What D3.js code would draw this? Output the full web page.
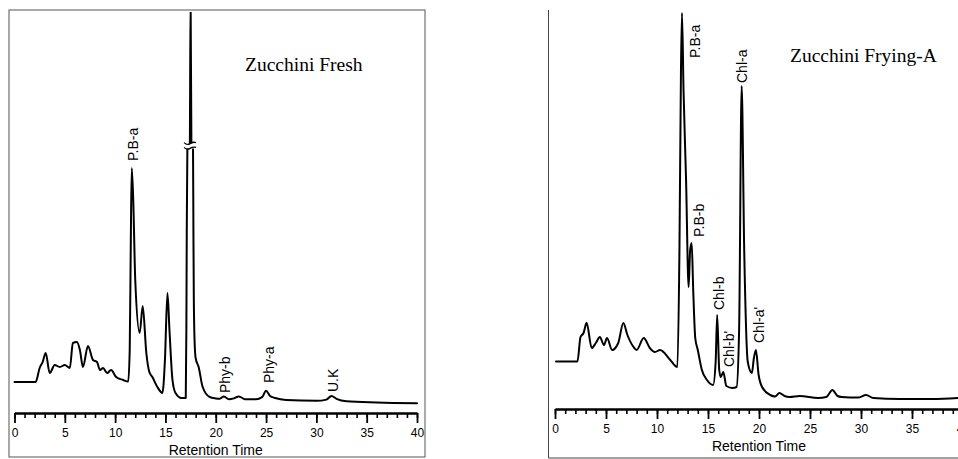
<!DOCTYPE html>
<html>
<head>
<meta charset="utf-8">
<script src="https://cdn.jsdelivr.net/npm/d3@7"></script>
<style>
  html, body { margin: 0; padding: 0; background: #fff; }
  svg { display: block; }
  text { font-family: "Liberation Sans", Arial, sans-serif; fill: #000; }
  .title { font-family: "Liberation Serif", "Times New Roman", serif; font-size: 19.5px; }
</style>
</head>
<body>
<svg id="chart" width="958" height="459"></svg>
<script>
// ---------------- DATA ----------------
const axisTicksMajor = [0, 5, 10, 15, 20, 25, 30, 35, 40];
const axisTicksMinor = d3.range(0, 41, 1);
const xLabel = "Retention Time";

const titleLeft = "Zucchini Fresh";
const titleRight = "Zucchini Frying-A";

// Left chromatogram (Zucchini Fresh): retention time (min) and detector response (arbitrary units)
const timeLeft = [0.0, 2.1, 2.5, 2.8, 3.1, 3.5, 4.0, 4.5, 5.0, 5.5, 5.8, 6.2, 6.5, 6.8, 7.3, 7.8, 8.2, 8.5, 8.8, 9.2, 9.6, 10.1, 10.8, 11.3,
  11.45, 11.55, 11.65, 11.8, 12.0, 12.44, 12.74, 13.1, 13.4, 13.7, 14.2, 14.7, 14.95, 15.2, 15.4, 15.7, 16.0, 16.6, 17.02,
  17.08, 17.12, 17.18, 17.42, 17.5, 17.58, 17.74, 17.78, 17.82, 17.9, 18.0, 18.3, 18.7, 19.4, 20.0, 20.4, 20.8, 21.3, 21.8, 22.3, 22.9, 24.0, 24.6, 25.0, 25.4,
  25.9, 27.0, 30.0, 31.0, 31.5, 32.0, 33.0, 36.0, 40.0];
const valueLeft = [7.0, 7.0, 10.5, 12.0, 14.25, 9.25, 11.25, 10.75, 11.25, 10.5, 16.75, 17.0, 15.0, 10.75, 16.0, 12.5, 12.0, 10.0, 10.5, 9.25, 10.0, 8.25, 7.5, 7.1,
  15.0, 40.0, 60.5, 52.5, 32.5, 19.25, 26.0, 14.25, 9.5, 8.25, 5.75, 4.25, 12.5, 29.25, 20.0, 7.5, 4.25, 3.0, 3.0,
  20.0, 45.0, 65.5, 66.5, 103.0, 66.5, 65.5, 45.0, 28.0, 17.0, 13.0, 10.75, 5.75, 3.25, 2.9, 2.8, 3.4, 2.7, 2.9, 3.4, 2.7, 2.7, 3.2, 4.8, 3.5,
  3.0, 2.5, 2.3, 2.6, 3.5, 2.8, 2.2, 1.9, 1.7];

// Right chromatogram (Zucchini Frying-A)
const timeRight = [0.1, 2.2, 2.5, 2.8, 3.1, 3.6, 4.0, 4.4, 4.8, 5.1, 5.6, 6.2, 6.7, 7.1, 7.7, 8.0, 8.7, 9.3, 9.8, 10.3, 11.3, 12.0,
  12.2, 12.35, 12.45, 12.6, 12.85, 13.1, 13.25, 13.4, 13.55, 13.75, 14.0, 14.4, 14.9, 15.5, 15.75, 15.9, 16.1, 16.25, 16.5, 16.8,
  17.4, 17.8, 18.05, 18.3, 18.55, 18.9, 19.3, 19.5, 19.7, 19.95, 20.3, 21.1, 21.6, 22.0, 22.5, 23.0, 24.0, 25.8, 26.6, 27.2, 27.7,
  28.1, 29.7, 30.5, 31.2, 33.8, 37.0, 39.5];
const valueRight = [12.1, 12.1, 18.25, 19.25, 21.8, 15.5, 16.75, 18.25, 16.25, 18.0, 15.0, 16.75, 21.75, 18.75, 15.75, 15.0, 18.0, 15.5, 14.5, 15.0, 12.5, 10.75,
  40.0, 85.0, 99.25, 80.0, 57.5, 30.75, 40.0, 41.75, 30.0, 18.0, 15.0, 10.0, 7.5, 6.25, 12.0, 23.75, 10.0, 8.25, 9.5, 6.0,
  5.5, 5.75, 20.0, 81.0, 40.0, 12.0, 9.25, 13.0, 15.0, 9.0, 5.75, 3.75, 3.4, 4.25, 3.5, 3.25, 3.5, 3.0, 3.25, 5.0, 3.5,
  3.25, 3.1, 3.75, 3.0, 2.75, 2.75, 3.0];

// Peak annotations: name, retention time and response at which the label starts
const peakNamesLeft = ["P.B-a", "Phy-b", "Phy-a", "U.K"];
const peakTimesLeft = [11.78, 20.9, 25.3, 31.66];
const peakLevelsLeft = [62.25, 4.25, 6.75, 4.5];

const peakNamesRight = ["P.B-a", "P.B-b", "Chl-b", "Chl-b'", "Chl-a", "Chl-a'"];
const peakTimesRight = [13.73, 14.12, 16.08, 17.06, 18.33, 20.0];
const peakLevelsRight = [88.0, 43.25, 25.0, 10.75, 81.75, 16.75];

// Axis break on the off-scale peak (left panel)
const breakTimeLeft = 17.45;
const breakLevelLeft = 66.0;

// ---------------- DRAWING ----------------
const svg = d3.select("#chart");

function panel(cfg) {
  const g = svg.append("g");
  const x = d3.scaleLinear().domain([0, 40]).range(cfg.xRange);
  const y = d3.scaleLinear().domain([0, 100]).range([410, 10]);

  // frame
  if (cfg.frame === "full") {
    g.append("rect").attr("x", cfg.frameBox[0]).attr("y", cfg.frameBox[1])
      .attr("width", cfg.frameBox[2]).attr("height", cfg.frameBox[3])
      .attr("fill", "none").attr("stroke", "#555").attr("stroke-width", 1);
  } else {
    g.append("path")
      .attr("d", `M${cfg.frameBox[0]},${cfg.frameBox[1]}V${cfg.frameBox[1] + cfg.frameBox[3]}H${cfg.frameBox[0] + cfg.frameBox[2]}`)
      .attr("fill", "none").attr("stroke", "#444").attr("stroke-width", 1);
  }

  // clip for off-scale peaks
  const clipId = "clip" + cfg.id;
  svg.append("defs").append("clipPath").attr("id", clipId)
    .append("rect").attr("x", 0).attr("y", 12).attr("width", 958).attr("height", 440);

  const line = d3.line().x((d, i) => x(cfg.t[i])).y(d => y(d)).curve(d3.curveMonotoneX);
  g.append("path").datum(cfg.v)
    .attr("d", line)
    .attr("clip-path", `url(#${clipId})`)
    .attr("fill", "none").attr("stroke", "#000")
    .attr("stroke-width", 2).attr("stroke-linejoin", "round").attr("stroke-linecap", "round");

  // axis
  const minor = d3.axisBottom(x).tickValues(axisTicksMinor).tickSize(5).tickSizeOuter(0).tickFormat("");
  const major = d3.axisBottom(x).tickValues(axisTicksMajor).tickSize(10).tickSizeOuter(0).tickPadding(5).tickFormat(d3.format("d"));
  const gm = g.append("g").attr("transform", `translate(0,${cfg.axisY})`).call(minor);
  gm.select(".domain").remove();
  gm.selectAll("line").attr("stroke", "#000").attr("stroke-width", 1.6);
  const gM = g.append("g").attr("transform", `translate(0,${cfg.axisY})`).call(major);
  gM.select(".domain").attr("stroke", "#000").attr("stroke-width", 2.6);
  gM.selectAll("line").attr("stroke", "#000").attr("stroke-width", 1.8);
  gM.selectAll("text").attr("font-size", 12).attr("font-family", "Liberation Sans, Arial, sans-serif").attr("fill", "#000");

  g.append("text").attr("x", x(20)).attr("y", cfg.axisY + 42)
    .attr("text-anchor", "middle").attr("font-size", 14).text(xLabel);

  // title
  g.append("text").attr("class", "title").attr("x", cfg.titlePos[0]).attr("y", cfg.titlePos[1]).text(cfg.title);

  // peak labels
  cfg.names.forEach((n, i) => {
    const px = x(cfg.lt[i]), py = y(cfg.lv[i]);
    g.append("text")
      .attr("transform", `translate(${px},${py}) rotate(-90)`)
      .attr("dy", "0.36em").attr("font-size", 14).text(n);
  });

  return { g, x, y };
}

const L = panel({
  id: "L", xRange: [14.5, 417], axisY: 413, frame: "full", frameBox: [9, 10, 416, 447],
  t: timeLeft, v: valueLeft, title: titleLeft, titlePos: [245, 71],
  names: peakNamesLeft, lt: peakTimesLeft, lv: peakLevelsLeft
});

const R = panel({
  id: "R", xRange: [555, 963], axisY: 409, frame: "open", frameBox: [548.5, 10, 420, 448],
  t: timeRight, v: valueRight, title: titleRight, titlePos: [790, 62],
  names: peakNamesRight, lt: peakTimesRight, lv: peakLevelsRight
});

// break marks on the off-scale peak
const bx = L.x(breakTimeLeft), by = L.y(breakLevelLeft);
L.g.append("rect").attr("x", bx - 8).attr("y", by - 2.5).attr("width", 16).attr("height", 5).attr("fill", "#fff");
[-2.4, 2.4].forEach(off => {
  L.g.append("path")
    .attr("d", `M${bx - 6},${by + off - 1} Q${bx - 3},${by + off + 2} ${bx},${by + off} T${bx + 6},${by + off - 1}`)
    .attr("fill", "none").attr("stroke", "#000").attr("stroke-width", 1.3);
});
</script>
</body>
</html>
